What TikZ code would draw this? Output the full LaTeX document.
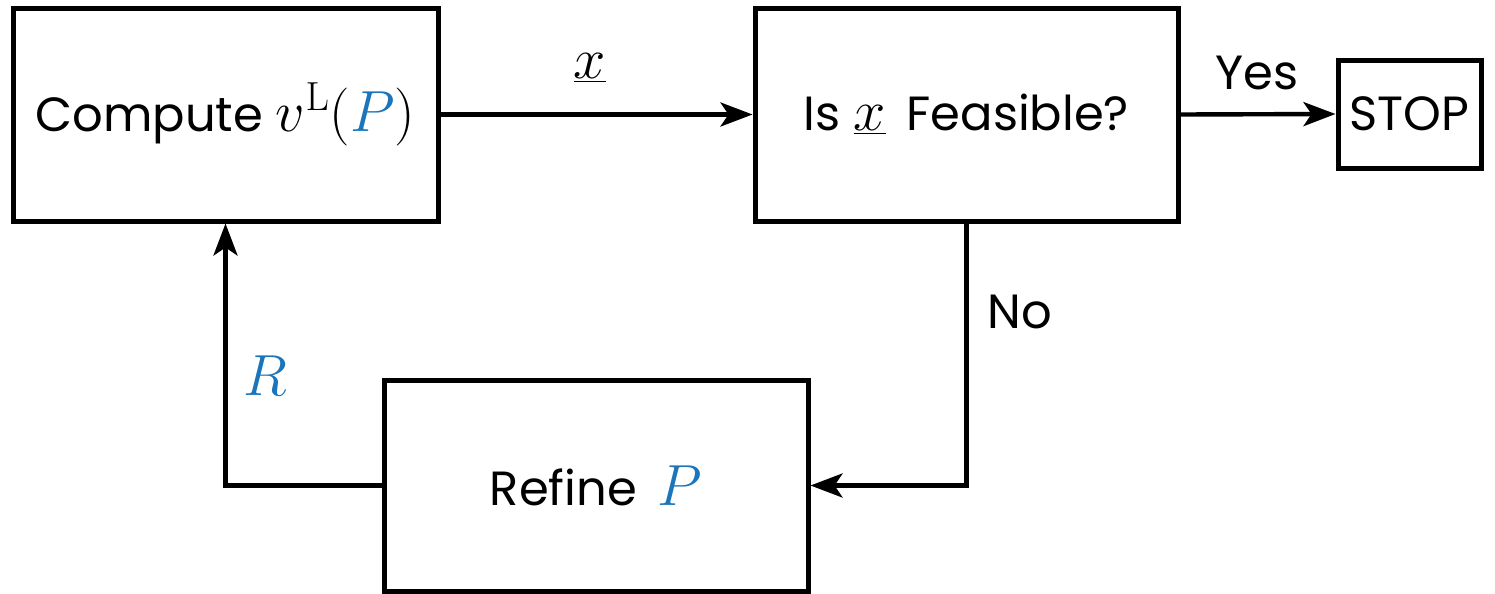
\RequirePackage{fix-cm}
\documentclass[tikz,border=0pt]{standalone}
\usepackage[no-math]{fontspec}
\setmainfont{Poppins}
\usetikzlibrary{arrows.meta}
\definecolor{pblue}{RGB}{26,117,188}
\newcommand{\mymath}[1]{{\fontsize{29}{32}\selectfont$#1$}}
\begin{document}
\begin{tikzpicture}[x=0.5pt,y=-0.5pt,
  box/.style={draw,line width=2.5pt,inner sep=0pt,font=\fontsize{24}{28}\selectfont},
  conn/.style={line width=2.2pt,-{Stealth[length=16pt,width=12pt,inset=4pt]}},
  lab/.style={font=\fontsize{24}{28}\selectfont,inner sep=0pt}]
\useasboundingbox (0,0) rectangle (1495,594);
\node[box,minimum width=212.5pt,minimum height=106.5pt] (comp) at (225.5,114.5) {Compute \mymath{v^{\mathrm{L}}(\textcolor{pblue}{P})}};
\node[box,minimum width=211.5pt,minimum height=106.5pt] (feas) at (966.5,114.5) {Is \mymath{\underline{x}}\, Feasible?};
\node[box,minimum width=71.5pt,minimum height=54pt] (stop) at (1409.5,114) {STOP};
\node[box,minimum width=212pt,minimum height=105.5pt] (ref) at (596,485.5) {Refine\, \mymath{\textcolor{pblue}{P}}};
\draw[conn] (comp.east) -- (feas.west);
\draw[conn] (feas.east) -- (stop.west);
\draw[conn] (feas.south) |- (ref.east);
\draw[conn] (ref.west) -| (comp.south);
\node[lab] (lx) at (590,68) {\mymath{\underline{x}}};
\node[lab] (lyes) at (1257,73) {Yes};
\node[lab] (lno) at (1020,312) {No};
\node[lab,text=pblue] (lr) at (265,376) {\mymath{R}};
\end{tikzpicture}
\end{document}
